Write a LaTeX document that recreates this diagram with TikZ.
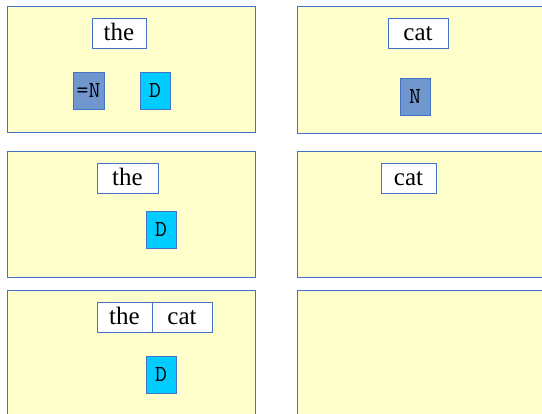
\documentclass[tikz,border=0pt]{standalone}
\usepackage{fontspec}
\setmainfont{Liberation Serif}
\setmonofont{Latin Modern Mono}
\usepackage{tikz}
\usetikzlibrary{positioning}
\usepackage{xcolor}
\definecolor{panelfill}{HTML}{FFFFCC}
\definecolor{panelline}{HTML}{4472C4}
\definecolor{nfill}{HTML}{7097CD}
\definecolor{dfill}{HTML}{00CCFF}

\tikzset{
    panel/.style={draw=panelline, fill=panelfill, line width=0.8pt},
    word/.style={draw=panelline, fill=white, line width=0.8pt, outer sep=0pt,
        minimum height=30pt, inner xsep=0pt, inner ysep=0pt,
        text height=17pt, text depth=2pt,
        font=\fontsize{25}{28}\selectfont},
    catbox/.style={draw=panelline, line width=0.8pt, outer sep=0pt,
        minimum height=37pt, inner xsep=0pt,
        font=\fontsize{23}{26}\selectfont\ttfamily\bfseries},
}

\begin{document}
\begin{tikzpicture}[x=1pt, y=-1pt]
    \useasboundingbox (0,0) rectangle (542,414);
    \clip (0,0) rectangle (542,414);

    % 第一行
    \begin{scope}
        \draw[panel] (7,6) rectangle (255,132);
        \draw[panel] (297,6) rectangle (560,133);
        \node[word, minimum width=54pt] (the1) at (119,33) {the};
        \node[catbox, fill=nfill, minimum width=31pt] (eqn1) at (88.5,90.5) {=N};
        \node[catbox, fill=dfill, minimum width=30pt] (det1) at (155,90.5) {D};
        \node[word, minimum width=60pt] (cat1) at (418,33) {cat};
        \node[catbox, fill=nfill, minimum width=30pt] (noun1) at (415,96.5) {N};
    \end{scope}

    % 第二行
    \begin{scope}
        \draw[panel] (7,151) rectangle (255,277);
        \draw[panel] (297,151) rectangle (560,277);
        \node[word, minimum width=61pt] (the2) at (127.5,178) {the};
        \node[catbox, fill=dfill, minimum width=30pt] (det2) at (161,229.5) {D};
        \node[word, minimum width=55pt] (cat2) at (408.5,178) {cat};
    \end{scope}

    % 第三行
    \begin{scope}
        \draw[panel] (7,290) rectangle (255,430);
        \draw[panel] (297,290) rectangle (560,430);
        \node[word, minimum width=55pt] (the3) at (124.5,317.5) {the};
        \node[word, minimum width=60pt, right=0pt of the3] (cat3) {cat};
        \node[catbox, fill=dfill, minimum width=30pt] (det3) at (161,374.5) {D};
    \end{scope}
\end{tikzpicture}
\end{document}
